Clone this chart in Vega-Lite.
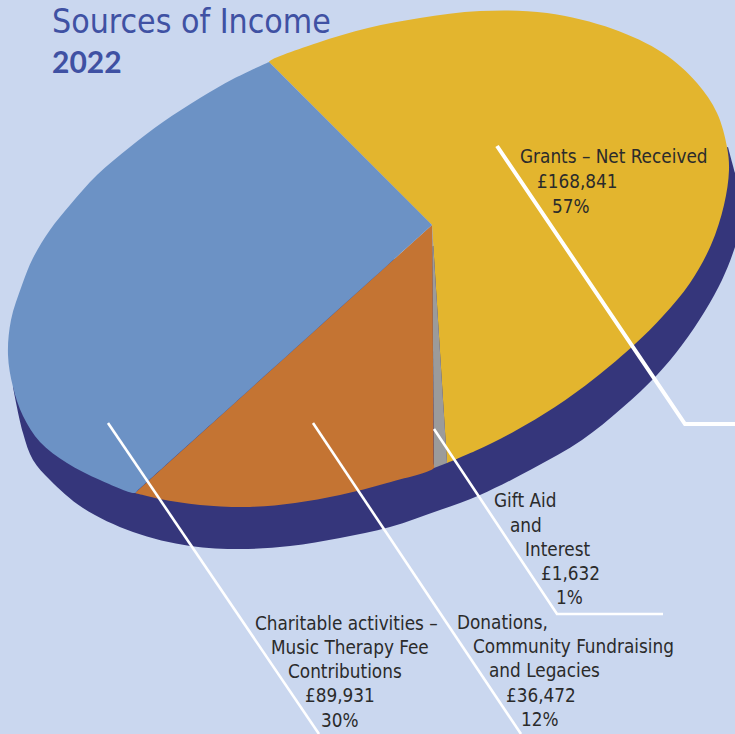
{
"$schema":"https://vega.github.io/schema/vega-lite/v6.json",
"width":735,"height":734,"padding":0,"autosize":{"type":"none"},
"background":"#cad7ef",
"config":{"view":{"stroke":null}},
"title":{"text":"Sources of Income","subtitle":"2022","anchor":"start","frame":"group","dx":52,"offset":-79,"font":"DejaVu Sans Condensed","fontSize":33.6,"fontWeight":"normal","color":"#3f51a3","subtitleFont":"Lato","subtitleFontSize":30,"subtitleFontWeight":"bold","subtitleColor":"#3f51a3","subtitlePadding":9},
"datasets":{
"outline":[
{"part":"Side","seq":1,"x":728,"y":147},{"part":"Side","seq":2,"x":735,"y":173},{"part":"Side","seq":3,"x":745,"y":210},{"part":"Side","seq":4,"x":735,"y":247},{"part":"Side","seq":5,"x":722,"y":280},{"part":"Side","seq":6,"x":705,"y":311},{"part":"Side","seq":7,"x":682,"y":345},{"part":"Side","seq":8,"x":657,"y":375},{"part":"Side","seq":9,"x":622,"y":408},{"part":"Side","seq":10,"x":582,"y":440},{"part":"Side","seq":11,"x":532,"y":469},{"part":"Side","seq":12,"x":480,"y":495},{"part":"Side","seq":13,"x":440,"y":510},{"part":"Side","seq":14,"x":390,"y":527},{"part":"Side","seq":15,"x":340,"y":538},{"part":"Side","seq":16,"x":290,"y":546},{"part":"Side","seq":17,"x":240,"y":549},{"part":"Side","seq":18,"x":190,"y":546},{"part":"Side","seq":19,"x":133,"y":532},{"part":"Side","seq":20,"x":83,"y":508},{"part":"Side","seq":21,"x":50,"y":480},{"part":"Side","seq":22,"x":33,"y":460},{"part":"Side","seq":23,"x":23,"y":433},{"part":"Side","seq":24,"x":13,"y":387},
{"part":"Grants","seq":1,"x":432,"y":225},{"part":"Grants","seq":2,"x":430,"y":223},{"part":"Grants","seq":3,"x":271,"y":64},{"part":"Grants","seq":4,"x":269,"y":62},{"part":"Grants","seq":5,"x":317,"y":43},{"part":"Grants","seq":6,"x":368,"y":28},{"part":"Grants","seq":7,"x":420,"y":18},{"part":"Grants","seq":8,"x":480,"y":11},{"part":"Grants","seq":9,"x":547,"y":13},{"part":"Grants","seq":10,"x":613,"y":29},{"part":"Grants","seq":11,"x":663,"y":53},{"part":"Grants","seq":12,"x":697,"y":83},{"part":"Grants","seq":13,"x":717,"y":113},{"part":"Grants","seq":14,"x":727,"y":147},{"part":"Grants","seq":15,"x":729,"y":170},{"part":"Grants","seq":16,"x":724,"y":205},{"part":"Grants","seq":17,"x":711,"y":245},{"part":"Grants","seq":18,"x":690,"y":283},{"part":"Grants","seq":19,"x":663,"y":316},{"part":"Grants","seq":20,"x":635,"y":344},{"part":"Grants","seq":21,"x":595,"y":378},{"part":"Grants","seq":22,"x":555,"y":407},{"part":"Grants","seq":23,"x":515,"y":431},{"part":"Grants","seq":24,"x":475,"y":451},{"part":"Grants","seq":25,"x":447,"y":463},
{"part":"Gift","seq":1,"x":432,"y":225},{"part":"Gift","seq":2,"x":447,"y":463},{"part":"Gift","seq":3,"x":434,"y":468},
{"part":"Donations","seq":1,"x":432,"y":225},{"part":"Donations","seq":2,"x":432.1,"y":228},{"part":"Donations","seq":3,"x":433.9,"y":465},{"part":"Donations","seq":4,"x":434,"y":468},{"part":"Donations","seq":5,"x":387,"y":483},{"part":"Donations","seq":6,"x":340,"y":495},{"part":"Donations","seq":7,"x":295,"y":503},{"part":"Donations","seq":8,"x":250,"y":507},{"part":"Donations","seq":9,"x":200,"y":505},{"part":"Donations","seq":10,"x":160,"y":499},{"part":"Donations","seq":11,"x":135,"y":493},
{"part":"Charitable","seq":1,"x":432,"y":225},{"part":"Charitable","seq":2,"x":429.8,"y":227},{"part":"Charitable","seq":3,"x":137.2,"y":491},{"part":"Charitable","seq":4,"x":135,"y":493},{"part":"Charitable","seq":5,"x":100,"y":480},{"part":"Charitable","seq":6,"x":67,"y":463},{"part":"Charitable","seq":7,"x":40,"y":442},{"part":"Charitable","seq":8,"x":23,"y":416},{"part":"Charitable","seq":9,"x":13,"y":387},{"part":"Charitable","seq":10,"x":8,"y":355},{"part":"Charitable","seq":11,"x":11,"y":320},{"part":"Charitable","seq":12,"x":22,"y":285},{"part":"Charitable","seq":13,"x":33,"y":258},{"part":"Charitable","seq":14,"x":50,"y":230},{"part":"Charitable","seq":15,"x":70,"y":205},{"part":"Charitable","seq":16,"x":97,"y":175},{"part":"Charitable","seq":17,"x":130,"y":147},{"part":"Charitable","seq":18,"x":163,"y":122},{"part":"Charitable","seq":19,"x":200,"y":98},{"part":"Charitable","seq":20,"x":233,"y":79},{"part":"Charitable","seq":21,"x":269,"y":62}
],
"leaders":[
{"part":"Grants","seq":1,"x":497,"y":146},{"part":"Grants","seq":2,"x":685,"y":424},{"part":"Grants","seq":3,"x":735,"y":424},
{"part":"Gift","seq":1,"x":434,"y":429},{"part":"Gift","seq":2,"x":557,"y":614},{"part":"Gift","seq":3,"x":663,"y":614},
{"part":"Donations","seq":1,"x":313,"y":423},{"part":"Donations","seq":2,"x":521,"y":734},
{"part":"Charitable","seq":1,"x":108,"y":423},{"part":"Charitable","seq":2,"x":319,"y":734}
],
"labels":[
{"text":"Grants – Net Received","x":520,"y":163},{"text":"£168,841","x":537,"y":188},{"text":"57%","x":552,"y":213},
{"text":"Gift Aid","x":494,"y":507},{"text":"and","x":510,"y":532},{"text":"Interest","x":525,"y":556},{"text":"£1,632","x":541,"y":580},{"text":"1%","x":556,"y":604},
{"text":"Donations,","x":457,"y":629},{"text":"Community Fundraising","x":473,"y":653},{"text":"and Legacies","x":489,"y":677},{"text":"£36,472","x":506,"y":702},{"text":"12%","x":521,"y":726},
{"text":"Charitable activities –","x":255,"y":630},{"text":"Music Therapy Fee","x":271,"y":654},{"text":"Contributions","x":288,"y":678},{"text":"£89,931","x":305,"y":702},{"text":"30%","x":321,"y":727}
]},
"encoding":{
"x":{"field":"x","type":"quantitative","scale":{"domain":[0,735],"nice":false,"zero":false},"axis":null},
"y":{"field":"y","type":"quantitative","scale":{"domain":[734,0],"nice":false,"zero":false},"axis":null}
},
"layer":[
{"data":{"name":"outline"},"transform":[{"filter":"datum.part=='Side'"}],"mark":{"type":"line","interpolate":"catmull-rom","fill":"#35367b","strokeWidth":0,"clip":true},"encoding":{"order":{"field":"seq","type":"quantitative"}}},
{"data":{"name":"outline"},"transform":[{"filter":"datum.part=='Grants'"}],"mark":{"type":"line","interpolate":"catmull-rom","fill":"#e3b52e","strokeWidth":0},"encoding":{"order":{"field":"seq","type":"quantitative"}}},
{"data":{"name":"outline"},"transform":[{"filter":"datum.part=='Gift'"}],"mark":{"type":"line","fill":"#9b9b9b","strokeWidth":0},"encoding":{"order":{"field":"seq","type":"quantitative"}}},
{"data":{"name":"outline"},"transform":[{"filter":"datum.part=='Donations'"}],"mark":{"type":"line","interpolate":"catmull-rom","fill":"#c47433","strokeWidth":0},"encoding":{"order":{"field":"seq","type":"quantitative"}}},
{"data":{"name":"outline"},"transform":[{"filter":"datum.part=='Charitable'"}],"mark":{"type":"line","interpolate":"catmull-rom","fill":"#6c92c5","strokeWidth":0},"encoding":{"order":{"field":"seq","type":"quantitative"}}},
{"data":{"name":"leaders"},"transform":[{"filter":"datum.part!='Grants'"}],"mark":{"type":"line","color":"#ffffff","strokeWidth":2.6,"strokeJoin":"miter"},"encoding":{"order":{"field":"seq","type":"quantitative"},"detail":{"field":"part"}}},
{"data":{"name":"leaders"},"transform":[{"filter":"datum.part=='Grants'"}],"mark":{"type":"line","color":"#ffffff","strokeWidth":4,"strokeJoin":"miter"},"encoding":{"order":{"field":"seq","type":"quantitative"}}},
{"data":{"name":"labels"},"mark":{"type":"text","align":"left","baseline":"alphabetic","font":"DejaVu Sans Condensed","fontSize":18.8,"color":"#2b2b2b"},"encoding":{"text":{"field":"text"}}}
]
}
